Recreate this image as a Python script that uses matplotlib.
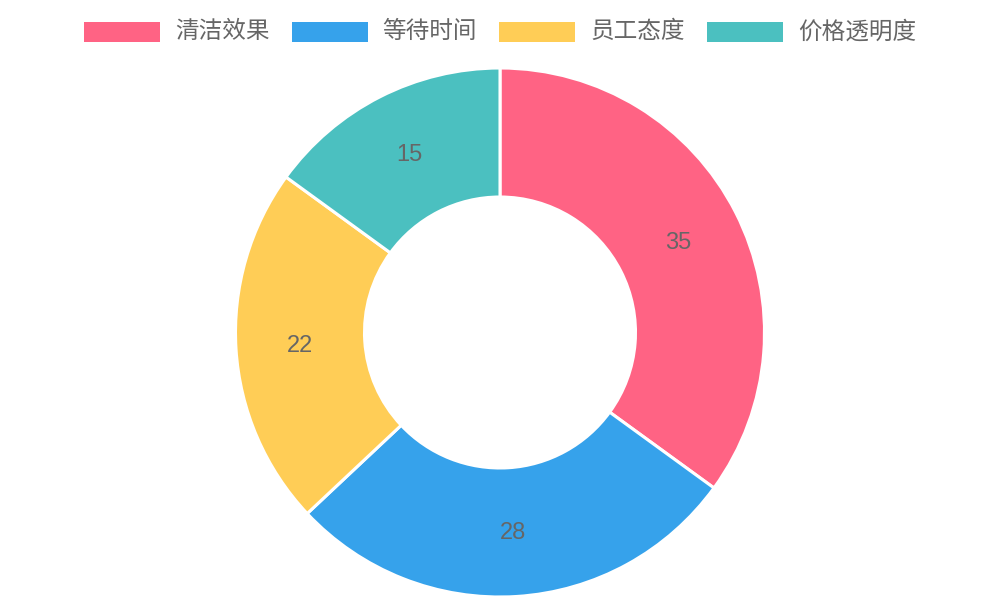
import numpy as np
import matplotlib
matplotlib.use("Agg")
import matplotlib.pyplot as plt
from matplotlib.patches import Rectangle

plt.rcParams['font.family'] = ['Liberation Sans', 'Noto Sans CJK SC', 'DejaVu Sans']

# === Data ===
labels = ["清洁效果", "等待时间", "员工态度", "价格透明度"]
values = [35, 28, 22, 15]
colors = ["#FF6384", "#36A2EB", "#FFCD56", "#4BC0C0"]

W, H = 1000, 600
fig = plt.figure(figsize=(10, 6), dpi=100)
ax = fig.add_axes([0, 0, 1, 1])

# === Doughnut ===
cx, cy = 500, H - 332.5
r_out, r_in = 264.5, 135.5
wedges, _ = ax.pie(values, colors=colors, startangle=90, counterclock=False,
                   radius=r_out, center=(cx, cy), frame=True,
                   wedgeprops=dict(width=r_out - r_in, edgecolor="white", linewidth=2.2))
ax.set_xlim(0, W)
ax.set_ylim(0, H)
ax.set_aspect("equal")
ax.axis("off")

r_mid = (r_out + r_in) / 2
for w, v in zip(wedges, values):
    ang = np.deg2rad((w.theta1 + w.theta2) / 2)
    ax.text(cx + r_mid * np.cos(ang), cy + r_mid * np.sin(ang) - 1, str(v),
            ha="center", va="center", fontsize=17, color="#666666")

# === Legend (top, centered) ===
fig.canvas.draw()
renderer = fig.canvas.get_renderer()
box_w, box_h, gap_text, gap_item = 76, 20, 15, 22
ly = H - 32
texts = []
widths = []
for lab in labels:
    t = ax.text(0, ly, lab, ha="left", va="center", fontsize=17, color="#666666")
    texts.append(t)
    widths.append(t.get_window_extent(renderer).width)
total = sum(box_w + gap_text + tw for tw in widths) + gap_item * (len(labels) - 1)
x = (W - total) / 2
for t, tw, c in zip(texts, widths, colors):
    ax.add_patch(Rectangle((x, ly - box_h / 2), box_w, box_h, facecolor=c, edgecolor="none"))
    t.set_x(x + box_w + gap_text)
    x += box_w + gap_text + tw + gap_item

fig.savefig("out.png", dpi=100)
